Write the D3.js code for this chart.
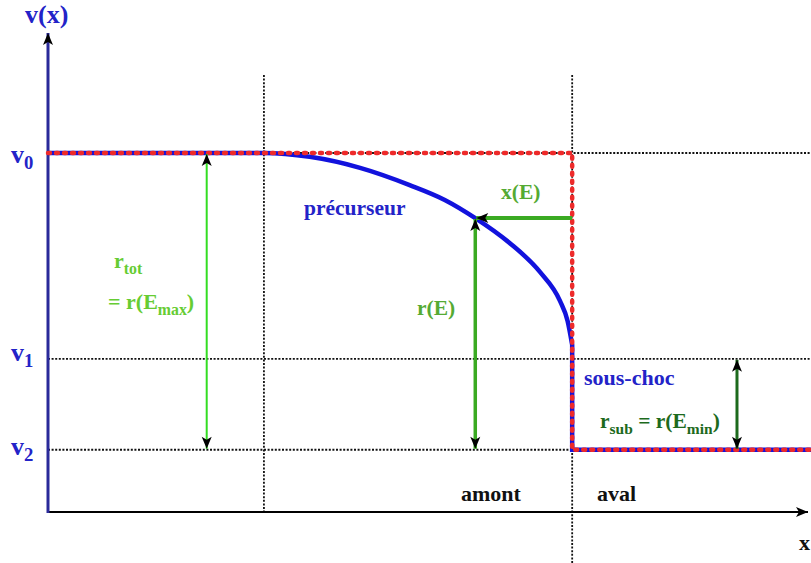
<!DOCTYPE html>
<html><head><meta charset="utf-8">
<script src="https://cdn.jsdelivr.net/npm/d3@7"></script>
<style>
html,body{margin:0;padding:0;background:#fff;}
svg{display:block;}
text{font-family:"Liberation Serif","Times New Roman",serif;font-weight:bold;}
</style></head>
<body>
<svg id="chart" width="811" height="563"></svg>
<script>
// ---- data (arbitrary units) ----
const levelNames = ["v0", "v1", "v2"];
const levelValues = [7.5, 3.2, 1.3];          // v0, v1, v2
const precursorStart = 2.83;                   // start of precursor
const shockX = 6.87;                           // shock position
const precursorX = [2.83, 3.43, 4.09, 4.74, 5.20, 5.60, 6.05, 6.45, 6.71, 6.81, 6.87];
const precursorY = [7.50, 7.42, 7.19, 6.83, 6.52, 6.14, 5.62, 5.01, 4.41, 3.99, 3.49];
const arrowXs = [2.08, 5.60, 9.03];            // r_tot, r(E), r_sub arrows
const energyY = 6.14;                          // level of r(E)

const W = 811, H = 563;
const svg = d3.select("#chart");
const x = d3.scaleLinear().domain([0, 10]).range([48, 811]);
const y = d3.scaleLinear().domain([0, 10]).range([512, 33.3]);

const v0 = levelValues[0], v1 = levelValues[1], v2 = levelValues[2];

const defs = svg.append("defs");
function marker(id, orient) {
  defs.append("marker").attr("id", id)
    .attr("viewBox", "-13 -6 14 12").attr("refX", 0).attr("refY", 0)
    .attr("markerWidth", 14).attr("markerHeight", 12)
    .attr("markerUnits", "userSpaceOnUse").attr("orient", orient)
    .append("path").attr("d", "M0,0 L-12,-5 L-9,0 L-12,5 Z").attr("fill", "#000");
}
marker("ah", "auto");
marker("ahs", "auto-start-reverse");

// dotted guides
const guide = (x1, y1, x2, y2) => svg.append("line")
  .attr("x1", x1).attr("y1", y1).attr("x2", x2).attr("y2", y2)
  .attr("stroke", "#111").attr("stroke-width", 1.8).attr("stroke-dasharray", "2 1.6");
levelValues.forEach(v => guide(x(0), y(v), W, y(v)));
guide(x(precursorStart), 75, x(precursorStart), y(0));
guide(x(shockX), 75, x(shockX), H);

// axes
svg.append("line").attr("x1", x(0)).attr("y1", y(0)).attr("x2", 808).attr("y2", y(0))
  .attr("stroke", "#000").attr("stroke-width", 2).attr("marker-end", "url(#ah)");
svg.append("line").attr("x1", x(0)).attr("y1", y(0) + 1).attr("x2", x(0)).attr("y2", 33)
  .attr("stroke", "#2a2a9a").attr("stroke-width", 3).attr("marker-end", "url(#ah)");

// blue profile
const curvePts = [[0, v0]].concat(precursorX.map((d, i) => [d, precursorY[i]]));
const curveGen = d3.line().x(d => x(d[0])).y(d => y(d[1])).curve(d3.curveMonotoneX);
const straight = d3.line().x(d => x(d[0])).y(d => y(d[1]));
svg.append("path")
  .attr("d", curveGen(curvePts) + "L" + x(shockX) + "," + y(v2) + "L" + x(10) + "," + y(v2))
  .attr("fill", "none").attr("stroke", "#1212dd").attr("stroke-width", 4.5);

// red step profile
const redPts = [[0, v0], [shockX, v0], [shockX, v2], [10, v2]];
svg.append("path").attr("d", straight(redPts))
  .attr("fill", "none").attr("stroke", "#ee2a2a").attr("stroke-width", 4.5)
  .attr("stroke-linecap", "round").attr("stroke-dasharray", "2 6");

// arrows
function arrow(x1, y1, x2, y2, color, w, both) {
  const l = svg.append("line").attr("x1", x1).attr("y1", y1).attr("x2", x2).attr("y2", y2)
    .attr("stroke", color).attr("stroke-width", w).attr("marker-end", "url(#ah)");
  if (both) l.attr("marker-start", "url(#ahs)");
}
arrow(x(arrowXs[0]), y(v2) - 1, x(arrowXs[0]), y(v0) + 1, "#33dd22", 2, true);
arrow(x(arrowXs[1]), y(v2) - 1, x(arrowXs[1]), y(energyY) + 1, "#3aaa22", 3.5, true);
arrow(x(shockX), y(energyY), x(arrowXs[1]) + 1, y(energyY), "#3aaa22", 4, false);
arrow(x(arrowXs[2]), y(v2) - 1, x(arrowXs[2]), y(v1) + 1, "#1d6a1d", 3, true);

// labels
function txt(tx, ty, parts, color, size, anchor) {
  const t = svg.append("text").attr("x", tx).attr("y", ty).attr("fill", color)
    .attr("font-size", size).attr("text-anchor", anchor || "start");
  parts.forEach(p => {
    const s = t.append("tspan").text(p[0]);
    if (p[1] === "sub") s.attr("font-size", size * 0.72).attr("dy", 6);
    if (p[1] === "base") s.attr("dy", -6);
  });
  return t;
}
const blue = "#2323c8";
txt(25, 23, [["v(x)"]], blue, 26);
txt(11, 163, [["v"], ["0", "sub"]], blue, 26);
txt(11, 361, [["v"], ["1", "sub"]], blue, 26);
txt(11, 455, [["v"], ["2", "sub"]], blue, 26);
txt(304, 215, [["précurseur"]], blue, 21.5);
txt(584, 385, [["sous-choc"]], blue, 22);
txt(114, 268, [["r"], ["tot", "sub"]], "#66cc33", 22);
txt(108, 309, [["= r(E"], ["max", "sub"], [")", "base"]], "#66cc33", 22);
txt(501, 199, [["x(E)"]], "#55aa33", 21.5);
txt(417, 315, [["r(E)"]], "#55aa33", 21.5);
txt(600, 428, [["r"], ["sub", "sub"], [" = r(E", "base"], ["min", "sub"], [")", "base"]], "#1d6a1d", 21.5);
txt(461, 501, [["amont"]], "#111", 22);
txt(597, 501, [["aval"]], "#111", 22);
txt(799, 550, [["x"]], "#111", 22);
</script>
</body></html>
